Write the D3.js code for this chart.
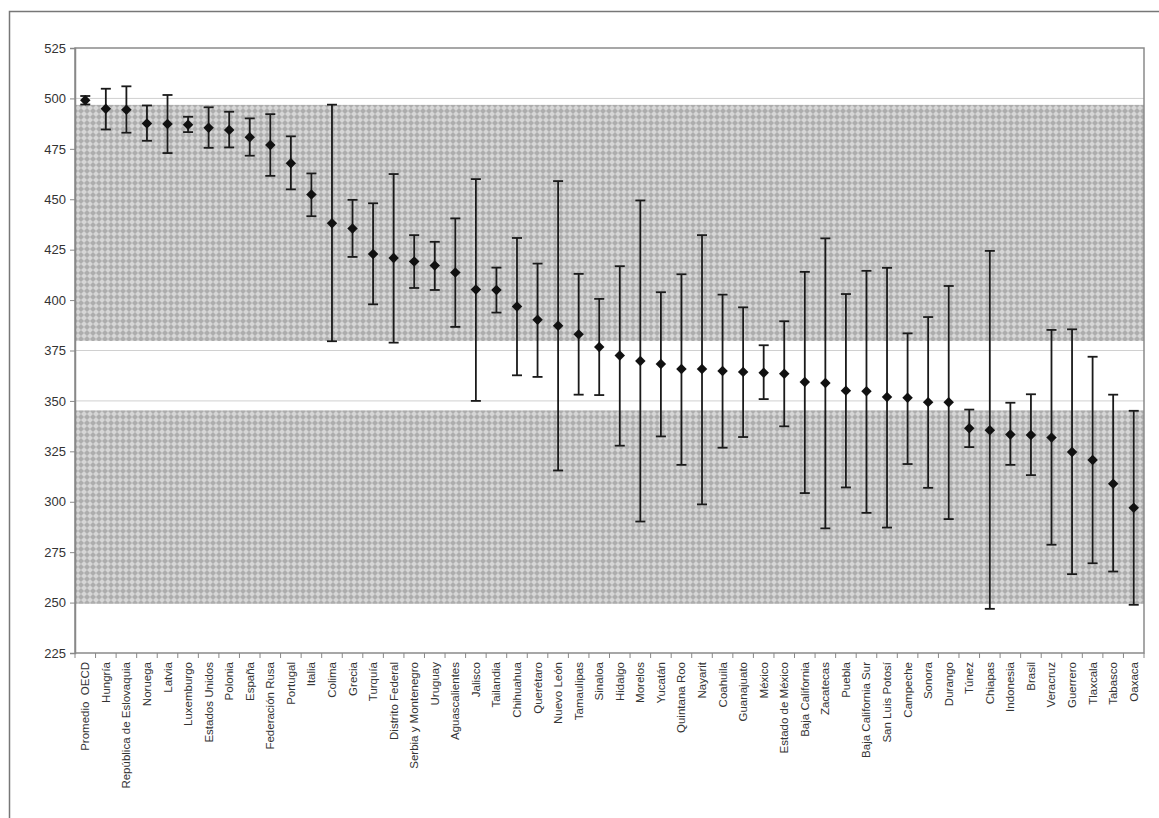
<!DOCTYPE html>
<html>
<head>
<meta charset="utf-8">
<script src="https://cdn.jsdelivr.net/npm/d3@7"></script>
<style>
  body { margin: 0; background: #fff; }
  text { font-family: "Liberation Sans", Arial, sans-serif; fill: #333; }
</style>
</head>
<body>
<div id="chart"></div>
<script>
// Data
const categories = ['Promedio  OECD', 'Hungría', 'República de Eslovaquia', 'Noruega', 'Latvia',
  'Luxemburgo', 'Estados Unidos', 'Polonia', 'España', 'Federación Rusa', 'Portugal', 'Italia',
  'Colima', 'Grecia', 'Turquía', 'Distrito Federal', 'Serbia y Montenegro', 'Uruguay',
  'Aguascalientes', 'Jalisco', 'Tailandia', 'Chihuahua', 'Querétaro', 'Nuevo León', 'Tamaulipas',
  'Sinaloa', 'Hidalgo', 'Morelos', 'Yucatán', 'Quintana Roo', 'Nayarit', 'Coahuila', 'Guanajuato',
  'México', 'Estado de México', 'Baja California', 'Zacatecas', 'Puebla', 'Baja California Sur',
  'San Luis Potosí', 'Campeche', 'Sonora', 'Durango', 'Túnez', 'Chiapas', 'Indonesia', 'Brasil',
  'Veracruz', 'Guerrero', 'Tlaxcala', 'Tabasco', 'Oaxaca']

const means = [499.1, 494.9, 494.4, 487.6, 487.3, 486.9, 485.4, 484.3, 480.8, 476.9, 467.8, 452.4,
  438.1, 435.5, 422.8, 420.9, 419.1, 417.1, 413.7, 405.2, 405.0, 396.8, 390.2, 387.3, 383.0,
  376.7, 372.5, 369.8, 368.3, 365.8, 365.8, 364.8, 364.4, 364.0, 363.5, 359.4, 358.9, 355.1,
  354.8, 351.9, 351.6, 349.4, 349.3, 336.5, 335.5, 333.4, 333.1, 331.8, 324.7, 320.7, 308.9, 297.0]

const lows = [497.0, 484.6, 483.0, 479.0, 472.9, 483.3, 475.5, 475.7, 471.6, 461.6, 454.9, 441.6,
  379.6, 421.4, 397.9, 378.9, 406.0, 405.0, 386.7, 350.0, 393.8, 362.7, 361.9, 315.5, 353.1,
  352.9, 327.8, 290.2, 332.4, 318.3, 298.7, 326.8, 332.1, 350.9, 337.4, 304.3, 286.8, 307.1,
  294.5, 287.2, 318.7, 306.9, 291.4, 327.1, 246.9, 318.3, 313.2, 278.7, 264.1, 269.5, 265.4, 248.9]

const highs = [501.2, 504.8, 506.0, 496.5, 501.7, 490.9, 495.6, 493.4, 490.1, 492.2, 481.2, 462.8,
  496.9, 449.7, 448.0, 462.5, 432.2, 428.9, 440.5, 460.0, 416.1, 430.8, 418.1, 459.0, 413.0,
  400.6, 416.8, 449.4, 403.9, 412.8, 432.2, 402.7, 396.4, 377.6, 389.5, 414.0, 430.6, 403.0,
  414.5, 416.0, 383.5, 391.6, 407.0, 345.7, 424.4, 349.1, 353.3, 385.2, 385.5, 371.9, 353.1, 345.1]

// shaded bands [bottom, top]
const bands = [[379.7, 496.8], [249.4, 345.3]]

const yTicks = [225, 250, 275, 300, 325, 350, 375, 400, 425, 450, 475, 500, 525]

// Dimensions
const width = 1159
const height = 818
const plot = { left: 75, top: 48, right: 1144, bottom: 653 }

const svg = d3.select('#chart')
  .append('svg')
  .attr('width', width)
  .attr('height', height)

// pattern for bands
const defs = svg.append('defs')
const pat = defs.append('pattern')
  .attr('id', 'hatch')
  .attr('patternUnits', 'userSpaceOnUse')
  .attr('width', 6)
  .attr('height', 6)
pat.append('rect').attr('width', 6).attr('height', 6).attr('fill', '#d6d6d6')
pat.append('path')
  .attr('d', 'M3,0 L6,3 L3,6 L0,3 Z')
  .attr('fill', '#adadad')

// outer frame
svg.append('path')
  .attr('d', `M9.5,${height} V11.5 H${width}`)
  .attr('fill', 'none')
  .attr('stroke', '#777')
  .attr('stroke-width', 1.5)

// Scales
const xScale = d3.scaleBand()
  .domain(categories)
  .range([plot.left, plot.right])

const yScale = d3.scaleLinear()
  .domain([225, 525])
  .range([plot.bottom, plot.top])

const ctr = svg.append('g')

// gridlines
ctr.append('g')
  .selectAll('line')
  .data(yTicks.slice(1, -1))
  .join('line')
  .attr('x1', plot.left)
  .attr('x2', plot.right)
  .attr('y1', d => yScale(d))
  .attr('y2', d => yScale(d))
  .attr('stroke', '#d0d0d0')
  .attr('stroke-width', 1)

// bands
ctr.append('g')
  .selectAll('rect')
  .data(bands)
  .join('rect')
  .attr('x', plot.left)
  .attr('width', plot.right - plot.left)
  .attr('y', d => yScale(d[1]))
  .attr('height', d => yScale(d[0]) - yScale(d[1]))
  .attr('fill', 'url(#hatch)')

// plot border
ctr.append('rect')
  .attr('x', plot.left)
  .attr('y', plot.top)
  .attr('width', plot.right - plot.left)
  .attr('height', plot.bottom - plot.top)
  .attr('fill', 'none')
  .attr('stroke', '#8a8a8a')
  .attr('stroke-width', 1.5)

// Y axis
const yAxis = d3.axisLeft(yScale)
  .tickValues(yTicks)
  .tickSize(5)
  .tickPadding(4)

const yAxisGroup = ctr.append('g')
  .attr('transform', `translate(${plot.left}, 0)`)
  .call(yAxis)
yAxisGroup.select('.domain').attr('stroke', '#888').attr('stroke-width', 1.5)
yAxisGroup.selectAll('.tick line').attr('stroke', '#888')
yAxisGroup.selectAll('text')
  .style('font-size', '13px')
  .attr('fill', '#333')

// X axis (ticks at category boundaries)
const boundaries = categories.map(c => xScale(c)).concat([plot.right])
ctr.append('g')
  .selectAll('line')
  .data(boundaries)
  .join('line')
  .attr('x1', d => d)
  .attr('x2', d => d)
  .attr('y1', plot.bottom)
  .attr('y2', plot.bottom + 5)
  .attr('stroke', '#888')

ctr.append('g')
  .selectAll('text')
  .data(categories)
  .join('text')
  .attr('transform', d => `translate(${xScale(d) + xScale.bandwidth() / 2 + 4}, ${plot.bottom + 9}) rotate(-90)`)
  .attr('text-anchor', 'end')
  .style('font-size', '11.5px')
  .style('white-space', 'pre')
  .attr('fill', '#333')
  .text(d => d)

// Error bars
const cx = i => xScale(categories[i]) + xScale.bandwidth() / 2
const capW = 5

const bars = ctr.append('g')
  .attr('stroke', '#1a1a1a')
  .attr('stroke-width', 1.8)

bars.selectAll('line.whisker')
  .data(means)
  .join('line')
  .attr('class', 'whisker')
  .attr('x1', (d, i) => cx(i))
  .attr('x2', (d, i) => cx(i))
  .attr('y1', (d, i) => yScale(lows[i]))
  .attr('y2', (d, i) => yScale(highs[i]))

bars.selectAll('line.capHi')
  .data(highs)
  .join('line')
  .attr('class', 'capHi')
  .attr('x1', (d, i) => cx(i) - capW)
  .attr('x2', (d, i) => cx(i) + capW)
  .attr('y1', d => yScale(d))
  .attr('y2', d => yScale(d))

bars.selectAll('line.capLo')
  .data(lows)
  .join('line')
  .attr('class', 'capLo')
  .attr('x1', (d, i) => cx(i) - capW)
  .attr('x2', (d, i) => cx(i) + capW)
  .attr('y1', d => yScale(d))
  .attr('y2', d => yScale(d))

// Diamonds
const diamond = d3.symbol().type(d3.symbolDiamond2).size(70)
ctr.append('g')
  .selectAll('path')
  .data(means)
  .join('path')
  .attr('d', diamond)
  .attr('transform', (d, i) => `translate(${cx(i)}, ${yScale(d)})`)
  .attr('fill', '#111')
</script>
</body>
</html>
